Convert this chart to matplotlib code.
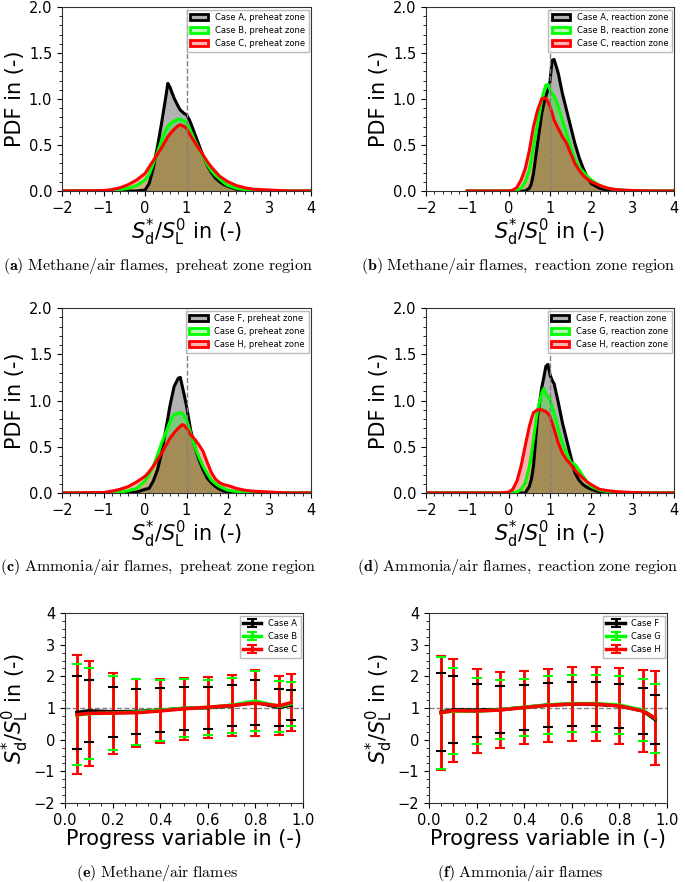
import numpy as np
import matplotlib
matplotlib.use('Agg')
import matplotlib.pyplot as plt
from matplotlib.patches import Patch
from matplotlib.ticker import AutoMinorLocator, MultipleLocator

# PDF grid of S_d*/S_L0 values
sd_grid = [-2.0, -1.0, -0.8, -0.6, -0.4, -0.2, 0.0, 0.1, 0.2, 0.3, 0.4, 0.5, 0.55, 0.6,
           0.7, 0.8, 0.85, 0.9, 0.95, 1.0, 1.05, 1.1, 1.2, 1.3, 1.4, 1.5, 1.6, 1.7,
           1.8, 1.9, 2.0, 2.2, 2.4, 2.6, 3.0, 3.5, 4.0]

# (a) methane, preheat zone
pdf_a_A = [0, 0, 0, 0, 0, 0, 0.01, 0.08, 0.25, 0.48, 0.74, 1.02, 1.17, 1.13,
           1.01, 0.92, 0.88, 0.86, 0.84, 0.83, 0.79, 0.74, 0.62, 0.50, 0.38, 0.28, 0.20, 0.14,
           0.10, 0.07, 0.05, 0.02, 0.01, 0, 0, 0, 0]
pdf_a_B = [0, 0, 0.005, 0.015, 0.03, 0.06, 0.12, 0.18, 0.30, 0.42, 0.55, 0.66, 0.70, 0.73,
           0.76, 0.78, 0.78, 0.77, 0.76, 0.74, 0.70, 0.65, 0.55, 0.46, 0.37, 0.29, 0.22, 0.17,
           0.13, 0.09, 0.06, 0.03, 0.015, 0.005, 0, 0, 0]
pdf_a_C = [0, 0.005, 0.015, 0.035, 0.07, 0.12, 0.19, 0.26, 0.33, 0.40, 0.47, 0.55, 0.59, 0.62,
           0.67, 0.71, 0.72, 0.71, 0.70, 0.68, 0.64, 0.60, 0.53, 0.46, 0.39, 0.32, 0.26, 0.21,
           0.16, 0.13, 0.10, 0.06, 0.035, 0.02, 0.01, 0, 0]

# (b) methane, reaction zone
pdf_b_A = [np.nan, 0, 0, 0, 0, 0, 0, 0, 0, 0, 0, 0.03, 0.08, 0.19,
           0.52, 0.84, 0.95, 1.03, 1.10, 1.19, 1.42, 1.43, 1.28, 1.06, 0.88, 0.70, 0.52, 0.37,
           0.25, 0.15, 0.08, 0.03, 0.01, 0, 0, 0, 0]
pdf_b_B = [np.nan, 0, 0, 0, 0, 0, 0, 0, 0.01, 0.03, 0.10, 0.23, 0.35, 0.48,
           0.73, 0.99, 1.08, 1.15, 1.16, 1.10, 1.06, 1.03, 0.92, 0.77, 0.63, 0.48, 0.35, 0.26,
           0.21, 0.16, 0.12, 0.06, 0.03, 0.015, 0, 0, 0]
pdf_b_C = [np.nan, 0, 0, 0, 0, 0, 0, 0.01, 0.04, 0.12, 0.24, 0.44, 0.57, 0.70,
           0.88, 1.00, 1.01, 1.01, 0.97, 0.92, 0.85, 0.77, 0.68, 0.59, 0.52, 0.41, 0.30, 0.23,
           0.17, 0.13, 0.10, 0.06, 0.03, 0.015, 0.005, 0, 0]

# (c) ammonia, preheat zone
pdf_c_F = [0, 0, 0, 0, 0.005, 0.01, 0.04, 0.05, 0.13, 0.25, 0.43, 0.68, 0.81, 0.94,
           1.15, 1.24, 1.25, 1.15, 1.05, 0.94, 0.81, 0.68, 0.50, 0.36, 0.25, 0.16, 0.11, 0.07,
           0.04, 0.02, 0.01, 0, 0, 0, 0, 0, 0]
pdf_c_G = [0, 0, 0.005, 0.01, 0.025, 0.05, 0.13, 0.20, 0.29, 0.41, 0.54, 0.65, 0.71, 0.77,
           0.85, 0.86, 0.87, 0.86, 0.83, 0.79, 0.72, 0.65, 0.50, 0.39, 0.29, 0.21, 0.14, 0.10,
           0.07, 0.05, 0.03, 0.015, 0.005, 0, 0, 0, 0]
pdf_c_H = [0, 0.005, 0.02, 0.04, 0.07, 0.12, 0.18, 0.23, 0.29, 0.36, 0.43, 0.51, 0.55, 0.59,
           0.65, 0.70, 0.72, 0.74, 0.73, 0.70, 0.67, 0.63, 0.58, 0.52, 0.45, 0.33, 0.22, 0.15,
           0.11, 0.09, 0.08, 0.05, 0.03, 0.02, 0.01, 0, 0]

# (d) ammonia, reaction zone
pdf_d_F = [0, 0, 0, 0, 0, 0, 0, 0, 0, 0, 0, 0.07, 0.15, 0.29,
           0.83, 1.14, 1.25, 1.37, 1.39, 1.28, 1.22, 1.18, 0.98, 0.76, 0.58, 0.40, 0.22, 0.14,
           0.09, 0.06, 0.04, 0.01, 0, 0, 0, 0, 0]
pdf_d_G = [0, 0, 0, 0, 0, 0, 0, 0, 0.01, 0.04, 0.11, 0.29, 0.42, 0.58,
           0.90, 1.08, 1.13, 1.07, 1.04, 1.01, 0.94, 0.87, 0.69, 0.54, 0.43, 0.33, 0.31, 0.25,
           0.18, 0.12, 0.07, 0.03, 0.015, 0.005, 0, 0, 0]
pdf_d_H = [0, 0, 0, 0, 0, 0, 0.01, 0.04, 0.13, 0.29, 0.51, 0.72, 0.80, 0.87,
           0.90, 0.90, 0.89, 0.88, 0.86, 0.83, 0.76, 0.69, 0.54, 0.43, 0.36, 0.31, 0.25, 0.20,
           0.16, 0.12, 0.09, 0.04, 0.025, 0.015, 0.005, 0, 0]

# conditional means and std vs progress variable
c_vals = [0.05, 0.1, 0.2, 0.3, 0.4, 0.5, 0.6, 0.7, 0.8, 0.9, 0.95]

mean_A = [0.86, 0.91, 0.88, 0.89, 0.93, 0.99, 1.01, 1.07, 1.18, 1.02, 1.09]
std_A = [1.145, 0.97, 0.795, 0.715, 0.69, 0.675, 0.66, 0.65, 0.705, 0.58, 0.48]
mean_B = [0.78, 0.82, 0.84, 0.87, 0.93, 0.99, 1.02, 1.09, 1.22, 1.05, 1.13]
std_B = [1.595, 1.44, 1.165, 1.035, 0.96, 0.915, 0.88, 0.87, 0.945, 0.805, 0.70]
mean_C = [0.79, 0.83, 0.84, 0.85, 0.905, 0.975, 1.025, 1.08, 1.155, 1.07, 1.17]
std_C = [1.87, 1.65, 1.28, 1.08, 1.015, 0.975, 0.965, 0.96, 1.035, 0.93, 0.91]

mean_F = [0.87, 0.94, 0.935, 0.95, 1.02, 1.095, 1.12, 1.115, 1.07, 0.905, 0.635]
std_F = [1.24, 1.06, 0.835, 0.74, 0.70, 0.695, 0.69, 0.695, 0.70, 0.735, 0.785]
mean_G = [0.85, 0.90, 0.895, 0.945, 1.025, 1.10, 1.14, 1.14, 1.095, 0.93, 0.675]
std_G = [1.77, 1.36, 1.045, 0.925, 0.895, 0.92, 0.91, 0.91, 0.925, 0.98, 1.095]
mean_H = [0.85, 0.915, 0.905, 0.935, 1.015, 1.085, 1.125, 1.125, 1.065, 0.90, 0.685]
std_H = [1.80, 1.625, 1.315, 1.195, 1.165, 1.145, 1.155, 1.155, 1.195, 1.30, 1.485]

colors = ['black', '#00ff00', 'red']
sd_label = r'$S_\mathrm{d}^{*}/S_\mathrm{L}^{0}$ in (-)'

fig = plt.figure(figsize=(6.85, 8.82), dpi=100)

W, H = 685.0, 882.0
def box(l, t, r, b):
    return [l / W, 1 - b / H, (r - l) / W, (b - t) / H]

pdf_panels = [
    (box(62, 7, 311, 191), [pdf_a_A, pdf_a_B, pdf_a_C], ['Case A', 'Case B', 'Case C'], 'preheat zone'),
    (box(426, 7, 674, 191), [pdf_b_A, pdf_b_B, pdf_b_C], ['Case A', 'Case B', 'Case C'], 'reaction zone'),
    (box(62, 308, 311, 493), [pdf_c_F, pdf_c_G, pdf_c_H], ['Case F', 'Case G', 'Case H'], 'preheat zone'),
    (box(426, 308, 674, 493), [pdf_d_F, pdf_d_G, pdf_d_H], ['Case F', 'Case G', 'Case H'], 'reaction zone'),
]

for pos, curves, cases, zone in pdf_panels:
    ax = fig.add_axes(pos)
    handles = []
    for y, col, case in zip(curves, colors, cases):
        ax.fill_between(sd_grid, y, color=col, alpha=0.3, lw=0)
        ax.plot(sd_grid, y, color=col, lw=2.2)
        handles.append(Patch(facecolor=matplotlib.colors.to_rgba(col, 0.3), edgecolor=col, lw=2,
                             label=case + ', ' + zone))
    ax.axvline(1.0, color='gray', ls='--', lw=1)
    ax.set_xlim(-2, 4)
    ax.set_ylim(0, 2)
    ax.xaxis.set_major_locator(MultipleLocator(1))
    ax.yaxis.set_major_locator(MultipleLocator(0.5))
    ax.xaxis.set_minor_locator(AutoMinorLocator(5))
    ax.yaxis.set_minor_locator(AutoMinorLocator(5))
    ax.tick_params(labelsize=10.5)
    for sp in ax.spines.values():
        sp.set_color('#333333')
    ax.set_xlabel(sd_label, fontsize=15, labelpad=1)
    ax.set_ylabel('PDF in (-)', fontsize=15, labelpad=3)
    ax.legend(handles=handles, loc='upper right', fontsize=6, handlelength=2.2,
              borderaxespad=0.3, fancybox=False, edgecolor='#aaaaaa')

err_panels = [
    (box(65, 613, 303, 803), [(mean_A, std_A), (mean_B, std_B), (mean_C, std_C)], ['Case A', 'Case B', 'Case C']),
    (box(429, 613, 667, 803), [(mean_F, std_F), (mean_G, std_G), (mean_H, std_H)], ['Case F', 'Case G', 'Case H']),
]

for pos, series, cases in err_panels:
    ax = fig.add_axes(pos)
    ax.axhline(1.0, color='gray', ls='--', lw=1)
    for k, ((m, s), col, case) in enumerate(zip(series, colors, cases)):
        line, caps, bars = ax.errorbar(c_vals, m, yerr=s, color=col, lw=2.5, elinewidth=2,
                                       capsize=3.5, capthick=1.5, label=case)
        for cp in caps:
            cp.set_zorder(5 - k)
    ax.set_xlim(0, 1)
    ax.set_ylim(-2, 4)
    ax.xaxis.set_major_locator(MultipleLocator(0.2))
    ax.yaxis.set_major_locator(MultipleLocator(1))
    ax.xaxis.set_minor_locator(AutoMinorLocator(4))
    ax.yaxis.set_minor_locator(AutoMinorLocator(4))
    ax.tick_params(labelsize=10.5)
    for sp in ax.spines.values():
        sp.set_color('#333333')
    ax.set_xlabel('Progress variable in (-)', fontsize=15, labelpad=1)
    ax.set_ylabel(r'$S_\mathrm{d}^{*}/S_\mathrm{L}^{0}$ in (-)', fontsize=15, labelpad=2)
    ax.legend(loc='upper right', fontsize=6, handlelength=2.2, borderaxespad=0.3,
              fancybox=False, edgecolor='#aaaaaa')

# captions
captions = [
    (158, 266, 'a', r'Methane/air\ flames,\ preheat\ zone\ region'),
    (518, 266, 'b', r'Methane/air\ flames,\ reaction\ zone\ region'),
    (158, 567, 'c', r'Ammonia/air\ flames,\ preheat\ zone\ region'),
    (518, 567, 'd', r'Ammonia/air\ flames,\ reaction\ zone\ region'),
    (157, 873, 'e', r'Methane/air\ flames'),
    (520, 873, 'f', r'Ammonia/air\ flames'),
]
for x, y, tag, txt in captions:
    fig.text(x / W, 1 - y / H, r'$\mathbf{(' + tag + r')}\ \mathrm{' + txt + '}$',
             ha='center', va='center', fontsize=11.5, math_fontfamily='cm')

plt.savefig('out.png', dpi=100)
